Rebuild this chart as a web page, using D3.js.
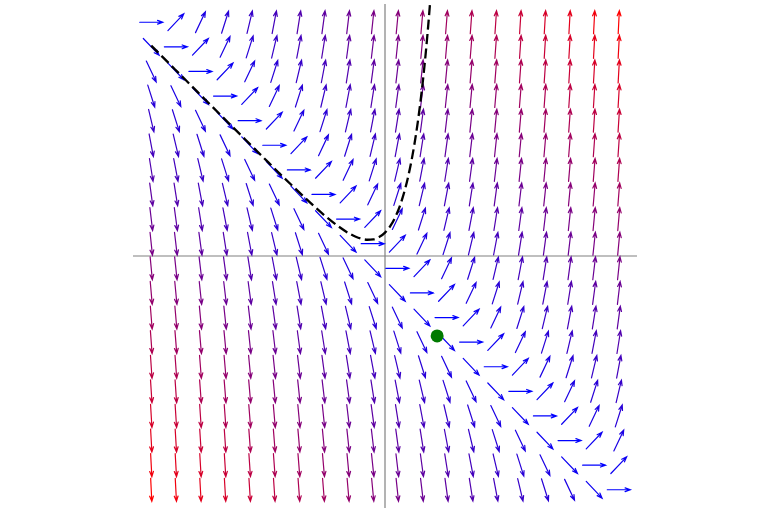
<!DOCTYPE html>
<html>
<head>
<meta charset="utf-8">
<script src="https://cdn.jsdelivr.net/npm/d3@7"></script>
<style>
  html, body { margin: 0; padding: 0; background: #fff; }
  svg { display: block; }
</style>
</head>
<body>
<svg id="chart" width="768" height="512"></svg>
<script>
// Grid sample positions (20 per axis, from -10 to 10)
const xGrid = [-10, -8.947, -7.895, -6.842, -5.789, -4.737, -3.684, -2.632, -1.579, -0.526,
               0.526, 1.579, 2.632, 3.684, 4.737, 5.789, 6.842, 7.895, 8.947, 10];
const yGrid = [-10, -8.947, -7.895, -6.842, -5.789, -4.737, -3.684, -2.632, -1.579, -0.526,
               0.526, 1.579, 2.632, 3.684, 4.737, 5.789, 6.842, 7.895, 8.947, 10];
// Field: dy/dx = x + y
const slope = (xv, yv) => xv + yv;
const maxSlope = 20;

// Solution curve through (0, 1)
const curveX = [-10, -9, -8, -7, -6, -5, -4, -3, -2.5, -2, -1.5, -1.25, -1, -0.75, -0.5, -0.25,
                0, 0.25, 0.5, 0.75, 1, 1.25, 1.5, 1.75, 1.875, 2];
const curveY = [9.00, 8.00, 7.00, 6.00, 5.005, 4.013, 3.037, 2.100, 1.664, 1.271, 0.946, 0.823,
                0.736, 0.695, 0.713, 0.808, 1.000, 1.318, 1.797, 2.484, 3.437, 4.731, 6.463,
                8.759, 10.17, 11.78];

// Marked point
const pointX = [2.23];
const pointY = [-3.42];

(function () {
const svg = d3.select("#chart");
const pL = 133, pR = 637, pT = 4, pB = 508;
const x = d3.scaleLinear().domain([-10.78, 10.78]).range([pL, pR]);
const y = d3.scaleLinear().domain([-10.78, 10.78]).range([pB, pT]);

svg.append("defs").append("clipPath").attr("id", "clip")
  .append("rect").attr("x", pL).attr("y", pT)
  .attr("width", pR - pL).attr("height", pB - pT);

// Axis lines through the origin
svg.append("line").attr("x1", pL).attr("x2", pR)
  .attr("y1", y(0)).attr("y2", y(0))
  .attr("stroke", "#808080").attr("stroke-width", 1.2);
svg.append("line").attr("x1", x(0)).attr("x2", x(0))
  .attr("y1", pT).attr("y2", pB)
  .attr("stroke", "#808080").attr("stroke-width", 1.2);

// Arrows
const L = 23, H = 5.5, ang = 20 * Math.PI / 180;
const color = d3.interpolateRgb("blue", "red");
const cells = [];
xGrid.forEach(xv => yGrid.forEach(yv => cells.push({xv, yv, m: slope(xv, yv)})));

svg.append("g").selectAll("path").data(cells).join("path")
  .attr("d", d => {
    const cx = x(d.xv), cy = y(d.yv);
    const n = Math.sqrt(1 + d.m * d.m);
    const ux = 1 / n, uy = -d.m / n;
    const tx = cx - ux * L / 2, ty = cy - uy * L / 2;
    const hx = cx + ux * L / 2, hy = cy + uy * L / 2;
    const a = Math.atan2(uy, ux);
    const b1x = hx - H * Math.cos(a - ang), b1y = hy - H * Math.sin(a - ang);
    const b2x = hx - H * Math.cos(a + ang), b2y = hy - H * Math.sin(a + ang);
    return `M${tx},${ty}L${hx},${hy}M${b1x},${b1y}L${hx},${hy}L${b2x},${b2y}`;
  })
  .attr("fill", "none")
  .attr("stroke", d => color(Math.min(1, Math.abs(d.m) / maxSlope)))
  .attr("stroke-width", 1.2)
  .attr("stroke-linecap", "round");

// Solution curve
const curvePts = curveX.map((v, i) => [v, curveY[i]]);
svg.append("path")
  .datum(curvePts)
  .attr("clip-path", "url(#clip)")
  .attr("d", d3.line().x(d => x(d[0])).y(d => y(d[1])).curve(d3.curveMonotoneX))
  .attr("fill", "none")
  .attr("stroke", "#000")
  .attr("stroke-width", 2.3)
  .attr("stroke-dasharray", "10,4.5");

// Point
svg.append("g").selectAll("circle").data(pointX.map((v, i) => [v, pointY[i]])).join("circle")
  .attr("cx", d => x(d[0])).attr("cy", d => y(d[1]))
  .attr("r", 6.5).attr("fill", "#007a00");
})();
</script>
</body>
</html>
